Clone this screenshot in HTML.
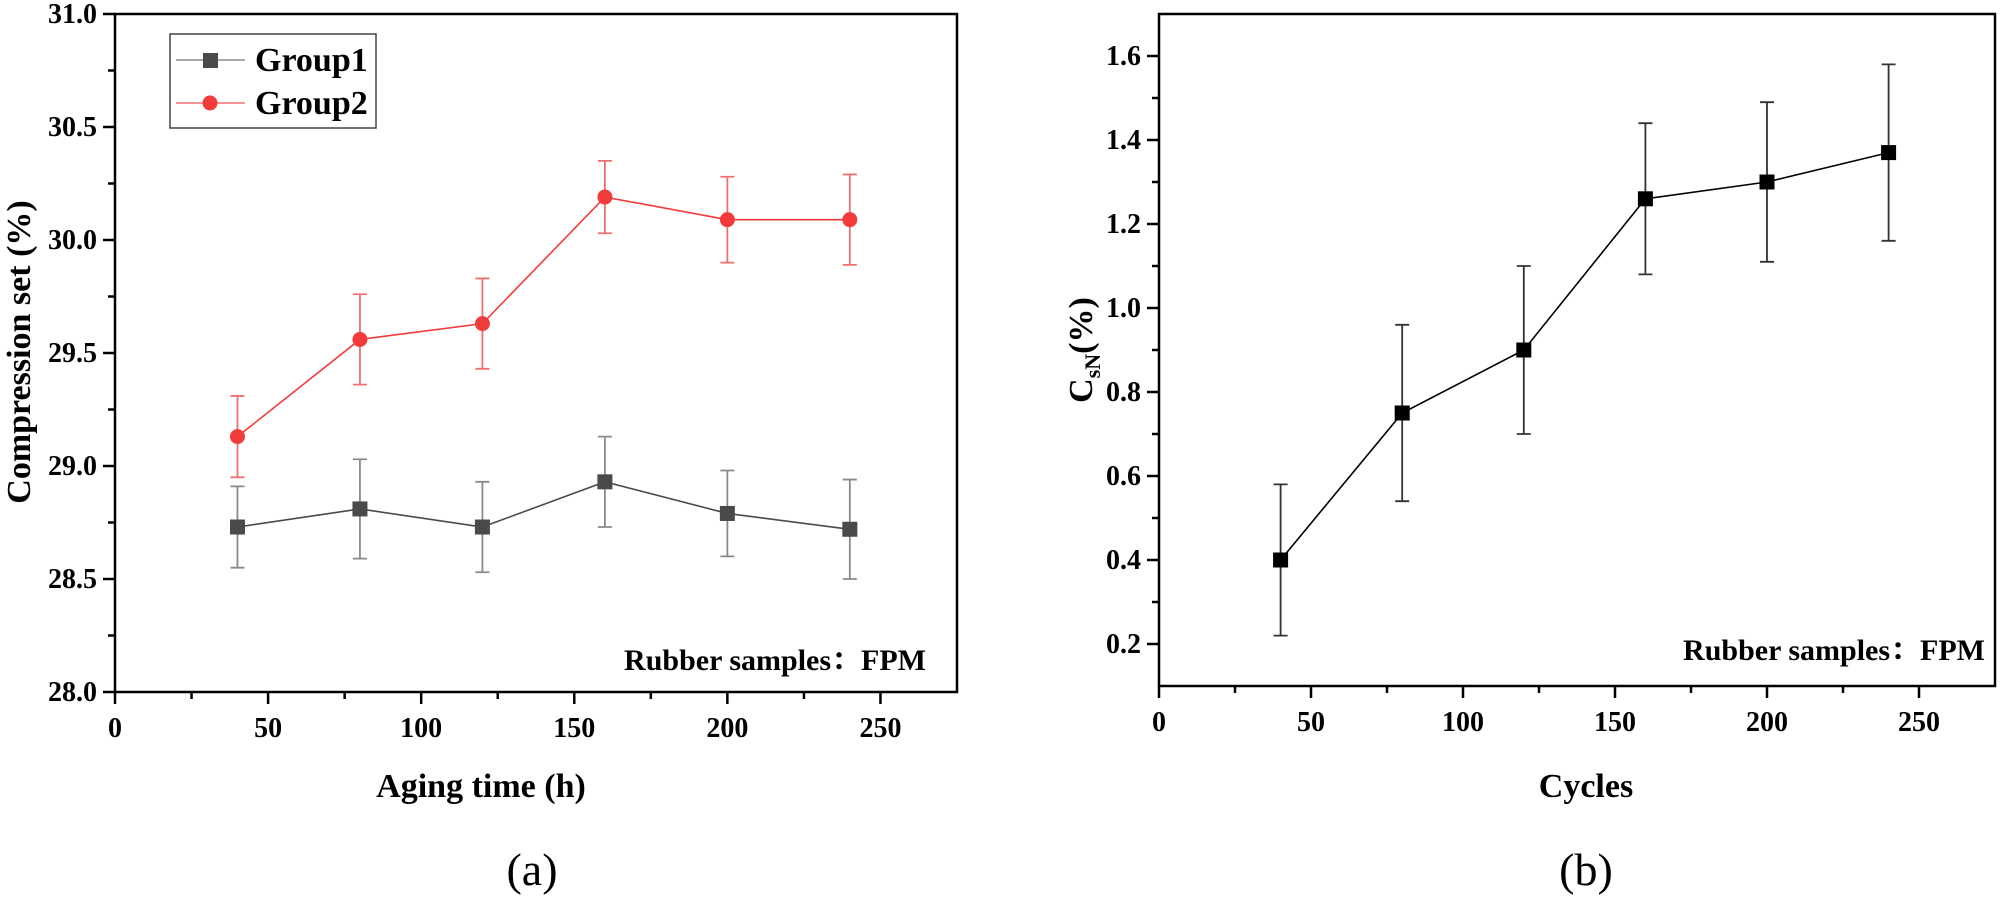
<!DOCTYPE html>
<html><head><meta charset="utf-8"><style>
html,body{margin:0;padding:0;background:#fff;}
svg{display:block;}
svg text{font-family:"Liberation Serif","Noto Serif CJK SC","DejaVu Serif",serif;}
</style></head><body>
<svg id="chart" width="2000" height="897" viewBox="0 0 2000 897" xmlns="http://www.w3.org/2000/svg"></svg>
<script>
const xs = [40, 80, 120, 160, 200, 240];
const g1 = [28.73, 28.81, 28.73, 28.93, 28.79, 28.72];
const g1err = [0.18, 0.22, 0.20, 0.20, 0.19, 0.22];
const g2 = [29.13, 29.56, 29.63, 30.19, 30.09, 30.09];
const g2err = [0.18, 0.20, 0.20, 0.16, 0.19, 0.20];
const csn = [0.40, 0.75, 0.90, 1.26, 1.30, 1.37];
const csnErr = [0.18, 0.21, 0.20, 0.18, 0.19, 0.21];
const xTicks = [0, 50, 100, 150, 200, 250];
const yTicksA = ["28.0","28.5","29.0","29.5","30.0","30.5","31.0"];
const yTicksB = ["0.2","0.4","0.6","0.8","1.0","1.2","1.4","1.6"];

const NS = "http://www.w3.org/2000/svg";
const FONT = '"Liberation Serif","Noto Serif CJK SC","DejaVu Serif",serif';
const svg = document.getElementById('chart');
function mk(tag, attrs, parent, text){
  const e = document.createElementNS(NS, tag);
  for (const k in attrs) e.setAttribute(k, attrs[k]);
  if (tag === 'text') e.setAttribute('font-family', FONT);
  if (text !== undefined) e.textContent = text;
  (parent || svg).appendChild(e);
  return e;
}

function panel(cfg){
  const g = mk('g', {});
  
  
  const X = v => cfg.x0 + (v - 0) / 275 * (cfg.x1 - cfg.x0);
  const Y = v => cfg.yb - (v - cfg.ymin) / (cfg.ymax - cfg.ymin) * (cfg.yb - cfg.yt);
  const frame = mk('rect', {x:cfg.x0, y:cfg.yt, width:cfg.x1-cfg.x0, height:cfg.yb-cfg.yt, fill:'none', stroke:'#000', 'stroke-width':2.5}, g);
  
  
  xTicks.forEach(t => {
    mk('line', {x1:X(t), x2:X(t), y1:cfg.yb, y2:cfg.yb+12, stroke:'#000','stroke-width':2.5}, g);
    const lb = mk('text', {x:X(t), y:cfg.yb+45, 'text-anchor':'middle','font-size':28,'font-weight':'bold'}, g, String(t));
    
    
    if (t + 25 < 275) mk('line', {x1:X(t+25), x2:X(t+25), y1:cfg.yb, y2:cfg.yb+7, stroke:'#000','stroke-width':2.5}, g);
  });
  cfg.yTicks.forEach((s, i) => {
    const v = parseFloat(s);
    mk('line', {x1:cfg.x0-12, x2:cfg.x0, y1:Y(v), y2:Y(v), stroke:'#000','stroke-width':2.5}, g);
    const lb = mk('text', {x:cfg.x0-18, y:Y(v)+9, 'text-anchor':'end','font-size':28,'font-weight':'bold'}, g, s);
    
    
    const mv = v + cfg.ystep/2;
    if (mv < cfg.ymax) mk('line', {x1:cfg.x0-7, x2:cfg.x0, y1:Y(mv), y2:Y(mv), stroke:'#000','stroke-width':2.5}, g);
  });
  const mv0 = parseFloat(cfg.yTicks[0]) - cfg.ystep/2;
  if (mv0 > cfg.ymin) mk('line', {x1:cfg.x0-7, x2:cfg.x0, y1:Y(mv0), y2:Y(mv0), stroke:'#000','stroke-width':2.5}, g);
  return {g, X, Y};
}

function series(p, vals, errs, color, errColor, marker, name){
  const sg = mk('g', {}, p.g);
  
  
  vals.forEach((v, i) => {
    const x = p.X(xs[i]);
    const eb = mk('path', {d:`M${x},${p.Y(v-errs[i])}V${p.Y(v+errs[i])}M${x-7},${p.Y(v-errs[i])}h14M${x-7},${p.Y(v+errs[i])}h14`, stroke:errColor, 'stroke-width':1.8, fill:'none'}, sg);
    
    
  });
  const pts = vals.map((v,i)=>p.X(xs[i])+','+p.Y(v)).join(' ');
  mk('polyline', {points:pts, fill:'none', stroke:color, 'stroke-width':1.6}, sg);
  vals.forEach((v, i) => {
    const x = p.X(xs[i]), y = p.Y(v);
    let m;
    if (marker === 'circle') m = mk('circle', {cx:x, cy:y, r:7.5, fill:color}, sg);
    else m = mk('rect', {x:x-7.5, y:y-7.5, width:15, height:15, fill:(name==='csn-series'?'#000':'#4a4a4a')}, sg);
    
    
  });
}

const pa = panel({name:'chart-a', x0:115, x1:957, yt:14, yb:692, ymin:28, ymax:31, ystep:0.5, yTicks:yTicksA});
series(pa, g1, g1err, '#4a4a4a', '#8a8a8a', 'square', 'group1-series');
series(pa, g2, g2err, '#f23b3b', '#f07070', 'circle', 'group2-series');
const lg = mk('g', {}, pa.g);


mk('rect', {x:170, y:34, width:206, height:94, fill:'#fff', stroke:'#444', 'stroke-width':1.5}, lg);
mk('line', {x1:176, x2:245, y1:60, y2:60, stroke:'#8a8a8a','stroke-width':1.5}, lg);
mk('rect', {x:203, y:53, width:15, height:15, fill:'#4a4a4a'}, lg);
const l1 = mk('text', {x:255, y:71, 'font-size':34, 'font-weight':'bold'}, lg, 'Group1');


mk('line', {x1:176, x2:245, y1:103, y2:103, stroke:'#f07070','stroke-width':1.5}, lg);
mk('circle', {cx:210, cy:103, r:7.5, fill:'#f23b3b'}, lg);
const l2 = mk('text', {x:255, y:114, 'font-size':34, 'font-weight':'bold'}, lg, 'Group2');



let t;
t = mk('text', {x:926, y:670, 'text-anchor':'end','font-size':30,'font-weight':'bold'}, pa.g, 'Rubber samples：FPM');


t = mk('text', {x:481, y:797, 'text-anchor':'middle','font-size':34,'font-weight':'bold'}, pa.g, 'Aging time (h)');


t = mk('text', {x:0, y:0, 'text-anchor':'middle','font-size':34,'font-weight':'bold', transform:'translate(30,352) rotate(-90)'}, pa.g, 'Compression set (%)');


t = mk('text', {x:532, y:885, 'text-anchor':'middle','font-size':46}, svg, '(a)');



const pb = panel({name:'chart-b', x0:1159, x1:1995, yt:14, yb:686, ymin:0.1, ymax:1.7, ystep:0.2, yTicks:yTicksB});
series(pb, csn, csnErr, '#000', '#333', 'square', 'csn-series');
t = mk('text', {x:1985, y:660, 'text-anchor':'end','font-size':30,'font-weight':'bold'}, pb.g, 'Rubber samples：FPM');


t = mk('text', {x:1586, y:797, 'text-anchor':'middle','font-size':34,'font-weight':'bold'}, pb.g, 'Cycles');


t = mk('text', {x:0, y:0, 'text-anchor':'middle','font-size':34,'font-weight':'bold', transform:'translate(1092,350) rotate(-90)'}, pb.g);


mk('tspan', {}, t, 'C');
mk('tspan', {'font-size':22, dy:8}, t, 'sN');
mk('tspan', {dy:-8}, t, '(%)');
t = mk('text', {x:1586, y:885, 'text-anchor':'middle','font-size':46}, svg, '(b)');


</script>
</body></html>
